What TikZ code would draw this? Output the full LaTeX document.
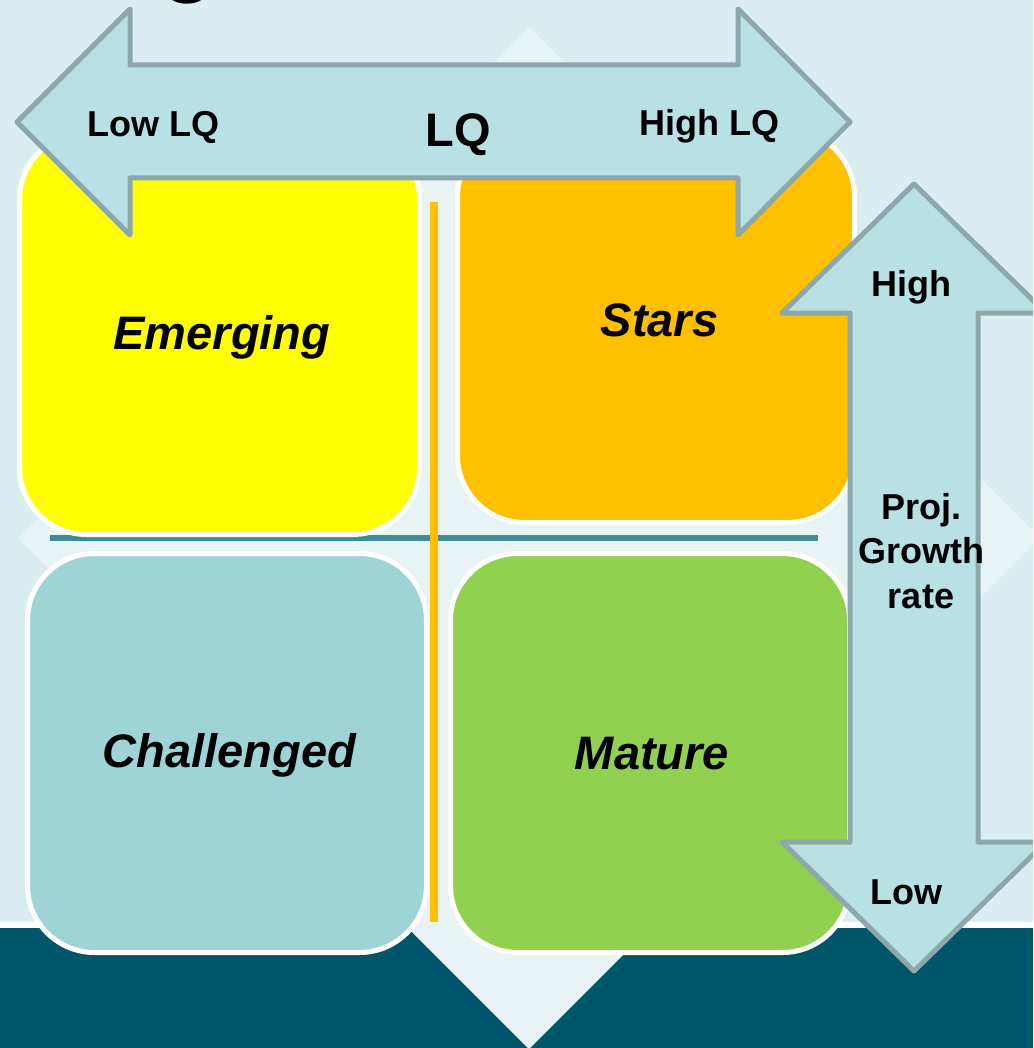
\documentclass[tikz,border=0pt]{standalone}
\usepackage{fontspec}
\setmainfont{Liberation Sans}
\definecolor{bgc}{HTML}{DAEDF0}
\definecolor{diam}{HTML}{E7F3F5}
\definecolor{band}{HTML}{02566A}
\definecolor{tealline}{HTML}{3F8C94}
\definecolor{arrfill}{HTML}{B9E0E3}
\definecolor{arrdraw}{HTML}{8DA8AB}
\definecolor{yel}{HTML}{FFFF00}
\definecolor{org}{HTML}{FFC000}
\definecolor{chl}{HTML}{9FD4D7}
\definecolor{grn}{HTML}{92D050}
\tikzset{
  quad/.style={draw=white, line width=5pt, rounded corners=67pt},
  arrowshape/.style={fill=arrfill, draw=arrdraw, line width=5pt, line join=round},
  lbl/.style={font=\fontsize{36}{44.5}\selectfont\bfseries, inner sep=0pt, align=center},
  biglbl/.style={font=\fontsize{47}{56}\selectfont\bfseries, inner sep=0pt},
  qlbl/.style={font=\fontsize{47}{56}\selectfont\bfseries\itshape, inner sep=0pt},
}
\begin{document}
\begin{tikzpicture}[x=1pt,y=-1pt]
\useasboundingbox (0,0) rectangle (1033,1048);
\begin{scope}
\clip (0,0) rectangle (1033,1048);
% background
\fill[bgc] (0,0) rectangle (1033,1048);
\fill[white] (0,922) rectangle (1033,928);
\fill[band] (0,928) rectangle (1033,1048);
\fill[diam] (529,27) -- (1040,538) -- (529,1049) -- (18,538) -- cycle;
% title fragment
\node[font=\fontsize{88}{96}\selectfont\bfseries, inner sep=0pt, anchor=base] (title) at (188,-14.5) {g};
% dividers
\draw[tealline, line width=6.5pt] (50,538) -- (818,538);
% quadrants
\draw[quad, fill=yel] (19.5,132.5) rectangle (419.5,534.5);
\draw[quad, fill=org] (457.5,129.5) rectangle (854.5,522.5);
\draw[quad, fill=chl] (27.5,553.5) rectangle (426.5,952.5);
\draw[quad, fill=grn] (450.5,553.5) rectangle (849.5,952.5);
\draw[org, line width=7.5pt] (434,202) -- (434,922);
% arrows
\draw[arrowshape] (17,122) -- (130,9) -- (130,65) -- (738,65) -- (738,9) -- (850,122)
  -- (738,235) -- (738,178) -- (130,178) -- (130,235) -- cycle;
\draw[arrowshape] (914,184) -- (1046,313) -- (978,313) -- (978,842) -- (1046,842)
  -- (914,971) -- (782,842) -- (850,842) -- (850,313) -- (782,313) -- cycle;
% labels
\node[qlbl, anchor=base] (emerging) at (222,349) {Emerging};
\node[qlbl, anchor=base] (stars) at (659.5,336) {Stars};
\node[qlbl, anchor=base] (challenged) at (229.5,767) {Challenged};
\node[qlbl, anchor=base] (mature) at (652,769) {Mature};
\node[lbl, anchor=base] (lowlq) at (153.5,137) {Low LQ};
\node[biglbl, anchor=base] (lq) at (458.5,147) {LQ};
\node[lbl, anchor=base] (highlq) at (709.5,136) {High LQ};
\node[lbl, anchor=base] (high) at (911,296) {High};
\node[lbl, anchor=north] (proj) at (921,493) {Proj.\\Growth\\rate};
\node[lbl, anchor=base] (low) at (906.5,904) {Low};
\end{scope}
\end{tikzpicture}
\end{document}
